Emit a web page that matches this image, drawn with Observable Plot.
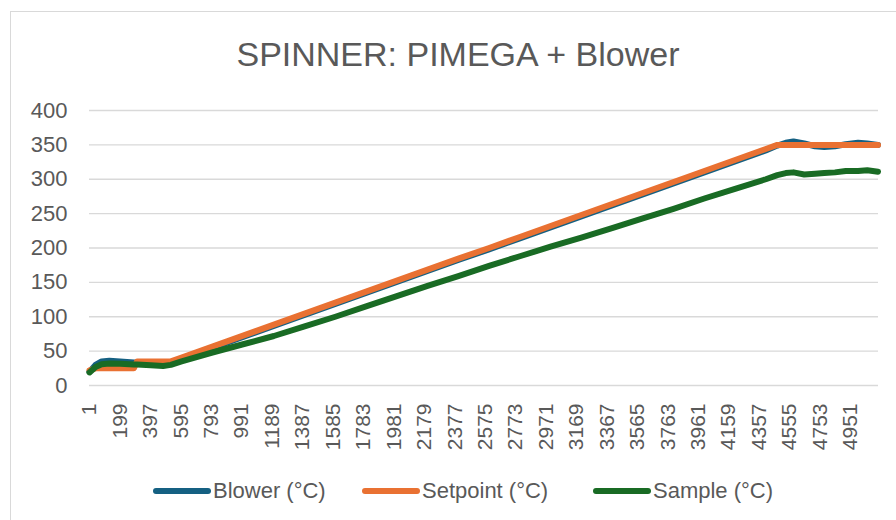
<!DOCTYPE html>
<html>
<head>
<meta charset="utf-8">
<script src="https://cdn.jsdelivr.net/npm/d3@7"></script>
<script src="https://cdn.jsdelivr.net/npm/@observablehq/plot@0.6"></script>
<style>
  html, body { margin: 0; padding: 0; background: #fff; width: 896px; height: 520px; overflow: hidden; }
  body { position: relative; font-family: "Liberation Sans", Arial, sans-serif; color: #595959; }
  #frame { position: absolute; left: 10px; top: 11px; width: 920px; height: 540px; border: 1px solid #d9d9d9; box-sizing: border-box; }
  #title { position: absolute; left: 10px; width: 896px; top: 37px; line-height: 34px; font-size: 34px; text-align: center; color: #595959; }
  #chart { position: absolute; left: 0; top: 90px; }
  #legend { position: absolute; left: 0; top: 476px; height: 30px; width: 896px; font-size: 22px; color: #595959; }
  .item { position: absolute; display: flex; align-items: center; height: 30px; }
  .item svg { display: block; }
</style>
</head>
<body>
<div id="frame"></div>
<div id="title">SPINNER: PIMEGA + Blower</div>
<div id="chart"></div>
<div id="legend"></div>
<script>
// Data point index (x category) and series values
const idx = [1, 40, 80, 130, 200, 290, 310, 400, 480, 530,
  600, 800, 1000, 1200, 1400, 1600, 1800, 2000, 2200, 2400,
  2600, 2800, 3000, 3200, 3400, 3600, 3800, 4000, 4200, 4400,
  4475, 4530, 4580, 4650, 4720, 4780, 4850, 4920, 5000, 5060,
  5130];
const blower = [20, 30, 35, 36, 35, 33.5, 33, 31, 31, 33,
  38.5, 54.5, 70.5, 86.5, 102.5, 118.5, 134.5, 150.5, 166.5, 182.5,
  198, 214, 230, 246, 262, 278, 294, 310, 326, 342,
  349, 353, 355, 352, 348, 347, 348, 351, 353, 352,
  350];
const setpoint = [22, 25, 25, 25, 25, 25, 35, 35, 35, 35,
  40.5, 56.5, 72.5, 88.5, 104.5, 120.5, 136.5, 152.5, 168.5, 184.5,
  200, 216, 232, 248, 264, 280, 296, 312, 328, 344,
  350, 350, 350, 350, 350, 350, 350, 350, 350, 350,
  350];
const sample = [19, 27, 31, 32, 31.5, 30.5, 30.5, 29.5, 28.5, 30,
  35, 48, 60, 72, 86, 100, 115, 130, 145, 159,
  174, 188, 202, 215, 229, 243, 257, 272, 286, 300,
  306, 309, 310, 307, 308, 309, 310, 312, 312, 313,
  311];
const seriesNames = ["Blower (°C)", "Setpoint (°C)", "Sample (°C)"];
const seriesColors = ["#156082", "#E97132", "#196B24"];
const xTicks = [1, 199, 397, 595, 793, 991, 1189, 1387, 1585, 1783, 1981, 2179, 2377,
  2575, 2773, 2971, 3169, 3367, 3565, 3763, 3961, 4159, 4357, 4555, 4753, 4951];
const yTicks = [0, 50, 100, 150, 200, 250, 300, 350, 400];

const seriesValues = [blower, setpoint, sample];
const rows = seriesValues.map(vals => idx.map((x, i) => ({x, y: vals[i]})));

const lineMarks = rows.map((r, k) => Plot.line(r, {
  x: "x", y: "y", stroke: seriesColors[k], strokeWidth: 6,
  strokeLinejoin: "round", strokeLinecap: "round"
}));

const chart = Plot.plot({
  width: 896,
  height: 370,
  marginLeft: 89,
  marginRight: 18,
  marginTop: 20,
  marginBottom: 75,
  style: { fontFamily: "'Liberation Sans', Arial, sans-serif", fontSize: "21px", color: "#595959", background: "transparent" },
  x: { domain: [1, 5133] },
  y: { domain: [0, 400] },
  marks: [
    Plot.gridY(yTicks, { stroke: "#d9d9d9", strokeOpacity: 1, strokeWidth: 1.3 }),
    Plot.axisY(yTicks, { tickSize: 0, tickPadding: 22, label: null, tickFormat: d => String(d), fontSize: 22 }),
    Plot.axisX(xTicks, { tickSize: 0, tickPadding: 18, tickRotate: -90, label: null, tickFormat: d => String(d) }),
    ...lineMarks
  ]
});
document.getElementById("chart").appendChild(chart);

// Legend
const legend = document.getElementById("legend");
const legendPos = [153, 362, 593];
seriesNames.forEach((name, k) => {
  const item = document.createElement("div");
  item.className = "item";
  item.style.left = legendPos[k] + "px";
  item.innerHTML = `<svg width="58" height="10"><line x1="3" y1="5" x2="55" y2="5" stroke="${seriesColors[k]}" stroke-width="6" stroke-linecap="round"/></svg><span style="margin-left:2px">${name}</span>`;
  legend.appendChild(item);
});
</script>
</body>
</html>
